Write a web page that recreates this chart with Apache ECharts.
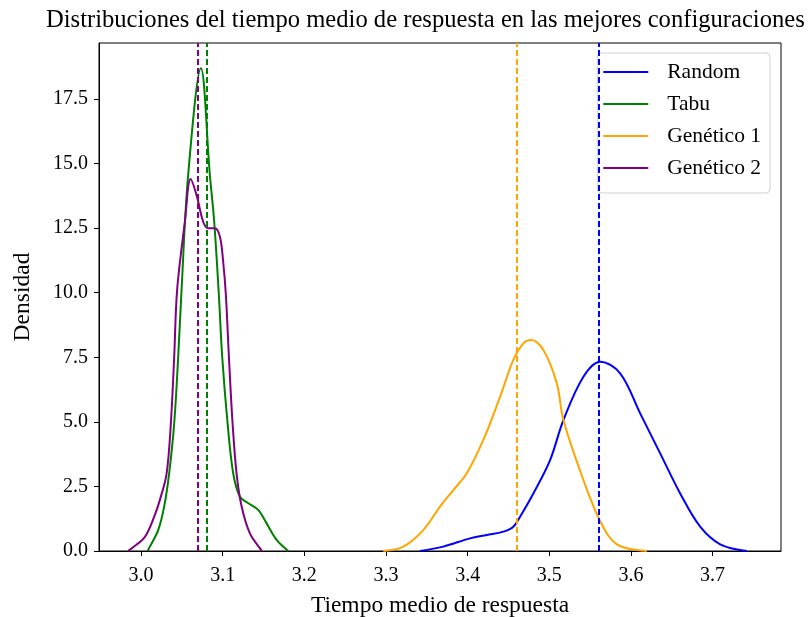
<!DOCTYPE html>
<html>
<head>
<meta charset="utf-8">
<script src="https://cdn.jsdelivr.net/npm/echarts@6/dist/echarts.min.js"></script>
<style>html,body{margin:0;padding:0;background:#fff}#c{width:808px;height:617px}</style>
</head>
<body>
<div id="c"></div>
<script>
// ---- data ----
const seriesNames = ['Random', 'Tabu', 'Genético 1', 'Genético 2'];

const randomX = [3.3417, 3.3702, 3.4029, 3.4234, 3.4438, 3.4560, 3.4642, 3.4805, 3.5010, 3.5173, 3.5418, 3.5623, 3.5868, 3.6113, 3.6358, 3.6603, 3.6848, 3.7093, 3.7420];
const randomY = [0.0, 0.17, 0.49, 0.62, 0.75, 0.94, 1.33, 2.23, 3.52, 5.07, 6.75, 7.33, 6.88, 5.33, 3.78, 2.23, 0.94, 0.26, 0.0];

const tabuX = [3.0080, 3.0108, 3.0210, 3.0283, 3.0344, 3.0406, 3.0455, 3.0496, 3.0577, 3.0733, 3.0843, 3.0896, 3.0953, 3.0994, 3.1060, 3.1129, 3.1211, 3.1313, 3.1435, 3.1538, 3.1661, 3.1803];
const tabuY = [0.0, 0.17, 0.81, 1.72, 3.0, 4.94, 7.52, 10.11, 14.56, 18.69, 14.56, 12.75, 9.91, 7.52, 4.94, 3.0, 2.10, 1.85, 1.59, 1.07, 0.43, 0.0];

const gen1X = [3.2967, 3.3212, 3.3457, 3.3662, 3.3825, 3.3988, 3.4192, 3.4397, 3.4560, 3.4683, 3.4777, 3.4928, 3.5092, 3.5173, 3.5418, 3.5623, 3.5827, 3.6195];
const gen1Y = [0.0, 0.17, 0.81, 1.72, 2.36, 3.0, 4.30, 5.97, 7.40, 8.04, 8.17, 7.78, 6.49, 5.07, 2.75, 1.16, 0.26, 0.0];

const gen2X = [2.9840, 2.9884, 3.0047, 3.0161, 3.0230, 3.0313, 3.0365, 3.0406, 3.0442, 3.0537, 3.0607, 3.0680, 3.0761, 3.0822, 3.0904, 3.0966, 3.1006, 3.1039, 3.1076, 3.1121, 3.1170, 3.1232, 3.1333, 3.1456, 3.1480];
const gen2Y = [0.0, 0.10, 0.55, 1.33, 1.97, 3.0, 4.94, 7.52, 10.11, 12.75, 14.40, 13.78, 12.75, 12.5, 12.5, 12.17, 11.2, 9.91, 7.52, 4.94, 3.0, 1.72, 0.68, 0.10, 0.0];

const meanValues = [3.5625, 3.0772, 3.4645, 3.0723];

const xTicks = [3.0, 3.1, 3.2, 3.3, 3.4, 3.5, 3.6, 3.7];
const yTicks = [0.0, 2.5, 5.0, 7.5, 10.0, 12.5, 15.0, 17.5];

const colors = ['#0000ff', '#008000', '#ffa500', '#800080'];
// ---------------------------------------

const xs = [randomX, tabuX, gen1X, gen2X];
const ys = [randomY, tabuY, gen1Y, gen2Y];
const font = '"Liberation Serif", "Times New Roman", serif';

const series = seriesNames.map((name, i) => ({
  name: name,
  type: 'line',
  data: xs[i].map((x, k) => [x, ys[i][k]]),
  showSymbol: false,
  symbol: 'none',
  smooth: 0.35,
  lineStyle: { color: colors[i], width: 2 },
  itemStyle: { color: colors[i] },
  z: 3,
  markLine: {
    silent: true,
    symbol: 'none',
    label: { show: false },
    lineStyle: { color: colors[i], type: [6, 3], width: 2 },
    data: [{ xAxis: meanValues[i] }]
  }
}));

const chart = echarts.init(document.getElementById('c'), null, { renderer: 'canvas' });
chart.setOption({
  animation: false,
  backgroundColor: '#ffffff',
  title: {
    text: 'Distribuciones del tiempo medio de respuesta en las mejores configuraciones',
    left: 46,
    top: 8,
    padding: 0,
    textStyle: { fontFamily: font, fontSize: 24.6, fontWeight: 'normal', color: '#000' }
  },
  legend: {
    data: seriesNames,
    orient: 'vertical',
    right: 38,
    top: 53,
    itemWidth: 45,
    itemHeight: 2,
    itemGap: 10,
    icon: 'rect',
    padding: [8, 9, 14, 6],
    backgroundColor: 'rgba(255,255,255,0.8)',
    borderColor: '#d0d0d0',
    borderWidth: 1,
    borderRadius: 4,
    textStyle: { fontFamily: font, fontSize: 21.5, lineHeight: 22, color: '#000', padding: [0, 0, 0, 14] }
  },
  grid: {
    left: 99, right: 27, top: 43, bottom: 66,
    containLabel: false,
    outerBoundsMode: 'none',
    show: true, borderColor: '#000', borderWidth: 1, backgroundColor: 'transparent'
  },
  xAxis: {
    type: 'value',
    min: 2.9485,
    max: 3.7838,
    name: 'Tiempo medio de respuesta',
    nameLocation: 'middle',
    nameGap: 43,
    nameTextStyle: { fontFamily: font, fontSize: 23.5, color: '#000' },
    splitLine: { show: false },
    axisLine: { show: true, onZero: false, lineStyle: { color: '#000', width: 1 } },
    axisTick: { show: true, inside: false, length: 5, lineStyle: { color: '#000' }, customValues: xTicks },
    axisLabel: {
      customValues: xTicks,
      fontFamily: font, fontSize: 20, color: '#000', margin: 15,
      formatter: v => v.toFixed(1)
    }
  },
  yAxis: {
    type: 'value',
    min: 0,
    max: 19.67,
    name: 'Densidad',
    nameLocation: 'middle',
    nameGap: 64,
    nameTextStyle: { fontFamily: font, fontSize: 23.5, color: '#000' },
    splitLine: { show: false },
    axisLine: { show: true, lineStyle: { color: '#000', width: 1 } },
    axisTick: { show: true, inside: false, length: 5, lineStyle: { color: '#000' }, customValues: yTicks },
    axisLabel: {
      customValues: yTicks,
      fontFamily: font, fontSize: 20, color: '#000', margin: 11,
      formatter: v => v.toFixed(1)
    }
  },
  series: series
});
</script>
</body>
</html>
